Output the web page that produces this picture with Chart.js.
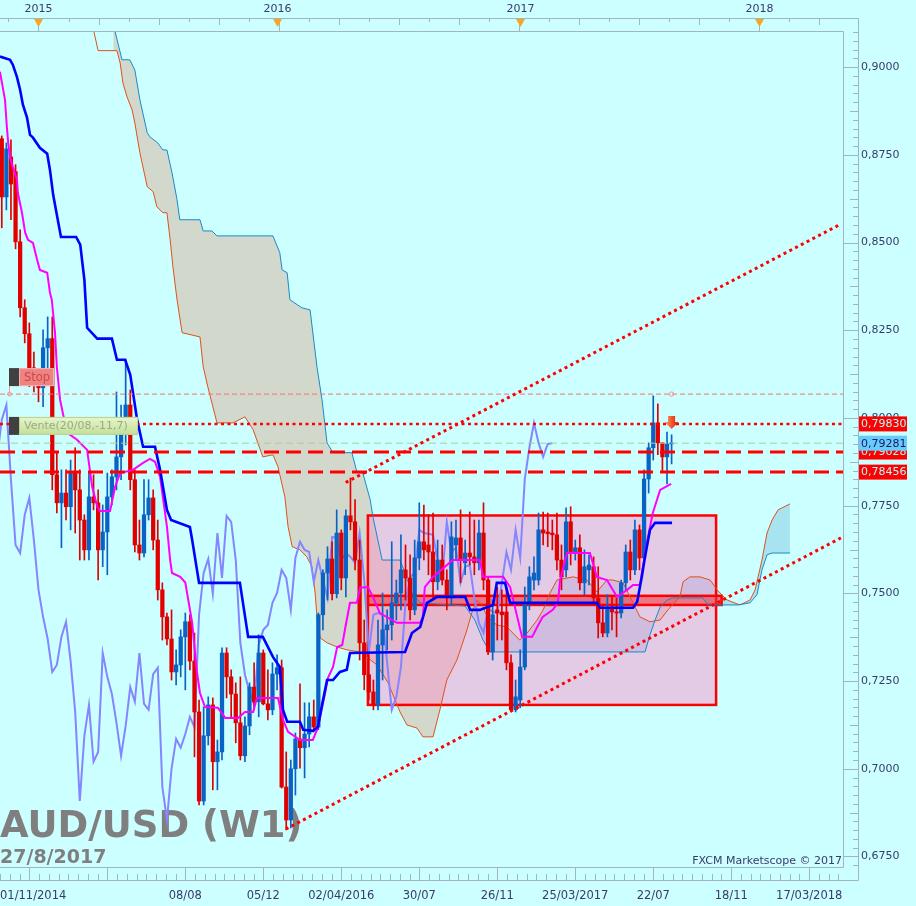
<!DOCTYPE html>
<html lang="fr">
<head>
<meta charset="UTF-8">
<title>AUD/USD (W1)</title>
<script src="https://cdn.jsdelivr.net/npm/chart.js"></script>
<style>
  html, body { margin: 0; padding: 0; background: #ccffff; overflow: hidden; }
  canvas { display: block; }
</style>
</head>
<body>
<canvas id="chart" width="916" height="906"></canvas>
<script>
  // weekly bars, week 0 = 13/12/2014, first bar (01/11/2014) = week -6
  const FIRST_WEEK = -6;
  const opens = [
    .8796,.8630,.8744,.8702,.8502,.8314,.8240,.8143,.8097,.8086,
    .8200,.8226,.7838,.7758,.7786,.7747,.7846,.7795,.7709,.7624,
    .7775,.7758,.7624,.7675,.7775,.7832,.7889,.7995,.8037,.7824,
    .7638,.7615,.7724,.7772,.7652,.7510,.7433,.7370,.7276,.7296,
    .7376,.7419,.7307,.7162,.6908,.7094,.7182,.7020,.7048,.7330,
    .7262,.7213,.7131,.7037,.7122,.7233,.7191,.7330,.7185,.7168,
    .7270,.7288,.6948,.6854,.7000,.7085,.7060,.7099,.7148,.7119,
    .7439,.7558,.7598,.7499,.7672,.7544,.7721,.7704,.7595,.7359,
    .7268,.7219,.7182,.7353,.7396,.7410,.7473,.7501,.7567,.7544,
    .7453,.7601,.7647,.7638,.7618,.7533,.7595,.7538,.7487,.7638,
    .7658,.7587,.7615,.7604,.7587,.7672,.7538,.7333,.7453,.7447,
    .7447,.7302,.7168,.7196,.7290,.7473,.7538,.7538,.7681,.7675,
    .7672,.7667,.7595,.7567,.7704,.7618,.7630,.7530,.7567,.7576,
    .7487,.7416,.7387,.7461,.7447,.7444,.7530,.7618,.7567,.7681,
    .7601,.7826,.7915,.7986,.7929,.7889,.7926
  ];
  const highs = [
    .8804,.8784,.8793,.8722,.8536,.8337,.8271,.8188,.8137,.8251,
    .8288,.8288,.7901,.7852,.7852,.7880,.7915,.7852,.7724,.7843,
    .7838,.7795,.7752,.7843,.7852,.8074,.8037,.8166,.8080,.7852,
    .7709,.7824,.7824,.7795,.7709,.7530,.7444,.7453,.7339,.7396,
    .7444,.7439,.7387,.7196,.7176,.7205,.7202,.7082,.7345,.7345,
    .7282,.7245,.7262,.7148,.7245,.7302,.7382,.7339,.7282,.7302,
    .7325,.7310,.7048,.7025,.7102,.7242,.7188,.7188,.7196,.7444,
    .7567,.7633,.7647,.7738,.7681,.7738,.7829,.7767,.7652,.7424,
    .7325,.7253,.7424,.7501,.7453,.7647,.7538,.7667,.7638,.7610,
    .7652,.7758,.7752,.7724,.7729,.7652,.7638,.7567,.7704,.7709,
    .7738,.7652,.7732,.7709,.7709,.7758,.7547,.7481,.7518,.7510,
    .7518,.7325,.7253,.7339,.7518,.7576,.7604,.7729,.7732,.7729,
    .7709,.7729,.7638,.7744,.7747,.7652,.7667,.7624,.7610,.7604,
    .7576,.7467,.7496,.7490,.7487,.7538,.7638,.7652,.7709,.7695,
    .7852,.7929,.8063,.8040,.7929,.7960,.7952
  ];
  const lows = [
    .8542,.8593,.8565,.8482,.8288,.8214,.8089,.8074,.8046,.8032,
    .8094,.7795,.7729,.7630,.7709,.7681,.7672,.7595,.7595,.7595,
    .7738,.7538,.7576,.7553,.7752,.7795,.7824,.7923,.7795,.7618,
    .7595,.7604,.7709,.7624,.7481,.7367,.7353,.7253,.7239,.7262,
    .7225,.7282,.7034,.6897,.6897,.7068,.6940,.6940,.7025,.7202,
    .7148,.7074,.7025,.7020,.7097,.7168,.7148,.7182,.7139,.7154,
    .7225,.6945,.6826,.6831,.6925,.7002,.6974,.7062,.7105,.7111,
    .7396,.7481,.7481,.7487,.7510,.7490,.7681,.7567,.7310,.7225,
    .7196,.7168,.7168,.7253,.7339,.7367,.7424,.7453,.7481,.7424,
    .7439,.7567,.7595,.7553,.7481,.7510,.7524,.7453,.7467,.7595,
    .7530,.7553,.7581,.7553,.7567,.7510,.7325,.7310,.7367,.7367,
    .7282,.7162,.7162,.7174,.7282,.7453,.7510,.7524,.7638,.7633,
    .7624,.7567,.7510,.7547,.7581,.7595,.7510,.7496,.7524,.7467,
    .7373,.7376,.7376,.7396,.7376,.7430,.7510,.7538,.7553,.7567,
    .7590,.7786,.7880,.7895,.7846,.7812,.7869
  ];
  const closes = [
    .8630,.8767,.8667,.8502,.8314,.8240,.8143,.8097,.8086,.8200,
    .8226,.7838,.7758,.7786,.7747,.7846,.7795,.7709,.7624,.7775,
    .7758,.7624,.7675,.7775,.7832,.7889,.7995,.8037,.7824,.7638,
    .7615,.7724,.7772,.7652,.7510,.7433,.7370,.7276,.7296,.7376,
    .7419,.7307,.7162,.6908,.7094,.7182,.7020,.7048,.7330,.7262,
    .7213,.7131,.7037,.7122,.7233,.7191,.7330,.7185,.7168,.7270,
    .7288,.6948,.6854,.7000,.7085,.7060,.7099,.7148,.7119,.7439,
    .7558,.7598,.7499,.7672,.7544,.7721,.7704,.7595,.7359,.7268,
    .7219,.7182,.7353,.7396,.7410,.7473,.7501,.7567,.7544,.7453,
    .7601,.7647,.7624,.7618,.7533,.7595,.7538,.7487,.7661,.7658,
    .7595,.7615,.7604,.7587,.7672,.7538,.7333,.7439,.7444,.7439,
    .7302,.7168,.7205,.7290,.7473,.7547,.7558,.7681,.7672,.7670,
    .7667,.7595,.7547,.7704,.7618,.7630,.7530,.7576,.7581,.7487,
    .7416,.7387,.7459,.7447,.7444,.7530,.7618,.7567,.7681,.7601,
    .7826,.7915,.7986,.7929,.7889,.7926,.7928
  ];

  // ichimoku lines: [week, price]
  const tenkanPts = [
    [-6.4,.8987],[-5.3,.8907],[-4.9,.8830],[-4.6,.8784],[-4.2,.8744],[-3.6,.8716],[-2.7,.8679],[-2.5,.8642],
    [-1.6,.8585],[-0.9,.8528],[-0.3,.8508],[0.8,.8499],[1.7,.8451],[2.3,.8422],[3.9,.8414],[4.5,.8357],
    [4.9,.8337],[5.6,.8243],[6.0,.8146],[6.7,.8052],[8.2,.7958],[10.4,.7938],[12.6,.7909],[13.7,.7804],
    [14.8,.7747],[15.4,.7735],[17.6,.7735],[18.7,.7804],[19.8,.7843],[22.6,.7852],[24.8,.7872],[26.3,.7883],
    [27.4,.7875],[28.5,.7832],[29.1,.7775],[30.0,.7690],[30.7,.7595],[31.1,.7558],[32.9,.7547],[34.0,.7531],
    [35.5,.7416],[36.5,.7280],[37.2,.7216],[38.3,.7176],[41.1,.7174],[42.7,.7145],[45.5,.7145],[47.0,.7162],
    [48.8,.7162],[49.6,.7202],[54.2,.7202],[55.3,.7139],[56.4,.7105],[59.0,.7082],[61.8,.7082],[62.9,.7117],
    [64.4,.7211],[65.1,.7259],[66.2,.7290],[67.1,.7347],[68.2,.7353],[68.9,.7404],[69.9,.7473],[71.4,.7473],
    [72.1,.7516],[73.8,.7518],[74.9,.7490],[76.4,.7444],[80.1,.7416],[85.2,.7416],[85.8,.7433],[86.2,.7518],
    [88.0,.7547],[92.3,.7595],[98.2,.7595],[98.9,.7547],[103.3,.7547],[104.8,.7518],[107.4,.7376],[109.6,.7376],
    [110.7,.7404],[111.9,.7433],[114.1,.7453],[115.2,.7473],[115.7,.7538],[117.2,.7615],[122.2,.7615],[123.7,.7547],
    [125.9,.7538],[128.1,.7490],[130.3,.7510],[131.6,.7524],[133.1,.7524],[134.6,.7644],[135.9,.7729],[137.5,.7795],
    [139.9,.7812]
  ];
  const kijunPts = [
    [-6.4,.9030],[-4.2,.9021],[-3.6,.9007],[-2.7,.8972],[-2.0,.8935],[-1.4,.8893],[-0.5,.8856],[0.15,.8807],
    [0.8,.8799],[2.3,.8770],[3.9,.8753],[4.5,.8707],[5.2,.8636],[6.0,.8579],[6.9,.8516],[10.2,.8516],
    [11.1,.8494],[12.0,.8394],[12.6,.8257],[14.8,.8226],[18.0,.8226],[19.1,.8166],[20.9,.8166],[22.0,.8123],
    [23.5,.7995],[24.8,.7918],[27.4,.7918],[28.5,.7852],[30.0,.7738],[30.9,.7709],[35.0,.7689],[35.5,.7652],
    [37.0,.7530],[45.9,.7530],[47.7,.7376],[50.9,.7376],[53.1,.7319],[54.6,.7290],[55.3,.7168],[56.2,.7134],
    [59.0,.7134],[59.7,.7111],[61.8,.7108],[62.9,.7119],[63.8,.7182],[64.9,.7253],[66.2,.7253],[67.7,.7276],
    [69.2,.7282],[69.9,.7330],[81.9,.7333],[83.4,.7387],[85.2,.7404],[86.7,.7473],[88.9,.7490],[95.0,.7490],
    [96.1,.7453],[98.2,.7453],[101.1,.7467],[101.9,.7530],[103.7,.7530],[104.8,.7473],[123.7,.7473],[124.4,.7459],
    [131.6,.7459],[132.5,.7476],[133.5,.7547],[134.2,.7604],[135.3,.7681],[136.4,.7701],[140.1,.7701]
  ];
  const senkouAPts = [
    [13.5,.9135],[15.0,.9047],[19.1,.9047],[19.8,.9012],[20.4,.8955],[21.3,.8915],[22.4,.8878],[23.0,.8841],
    [24.1,.8756],[25.7,.8659],[27.0,.8645],[27.8,.8602],[29.1,.8585],[30.0,.8585],[30.7,.8508],[31.3,.8431],
    [32.2,.8337],[33.3,.8243],[37.2,.8231],[37.9,.8146],[38.9,.8089],[40.9,.7986],[44.4,.7986],[47.0,.8003],
    [48.8,.7966],[50.9,.7889],[53.1,.7895],[54.2,.7861],[55.7,.7775],[56.4,.7690],[57.3,.7633],[59.0,.7624],
    [60.5,.7604],[61.6,.7576],[62.3,.7501],[62.7,.7433],[63.4,.7373],[64.9,.7359],[67.1,.7347],[69.2,.7339],
    [72.1,.7333],[75.8,.7296],[78.2,.7245],[80.8,.7162],[82.3,.7125],[84.5,.7116],[85.8,.7091],[88.0,.7091],
    [89.5,.7168],[91.0,.7253],[93.2,.7310],[95.4,.7396],[96.5,.7447],[97.6,.7481],[98.7,.7467],[99.8,.7433],
    [101.9,.7410],[104.1,.7404],[106.9,.7367],[108.5,.7387],[110.7,.7424],[112.0,.7453],[113.5,.7501],[115.0,.7538],
    [118.5,.7547],[121.6,.7538],[123.7,.7504],[125.9,.7538],[127.2,.7538],[129.4,.7530],[131.6,.7473],[133.1,.7433],
    [135.3,.7419],[137.5,.7424],[139.2,.7453],[141.8,.7490],[142.5,.7533],[144.0,.7547],[146.2,.7547],[148.4,.7538],
    [149.9,.7510],[152.1,.7481],[154.9,.7467],[157.1,.7481],[158.2,.7510],[159.7,.7595],[160.8,.7672],[161.9,.7709],
    [163.2,.7738],[165.8,.7755]
  ];
  const senkouBPts = [
    [18.3,.9135],[18.7,.9101],[20.2,.9021],[21.9,.9021],[23.0,.8992],[24.1,.8907],[25.7,.8813],[26.3,.8801],
    [28.0,.8784],[29.1,.8764],[30.0,.8764],[31.1,.8699],[32.2,.8622],[32.8,.8565],[37.2,.8565],[37.9,.8533],
    [39.8,.8533],[40.9,.8519],[53.1,.8519],[54.6,.8471],[55.1,.8422],[56.2,.8414],[56.8,.8337],[59.4,.8314],
    [61.2,.8308],[62.7,.8146],[63.8,.8052],[64.9,.7929],[66.2,.7901],[70.3,.7901],[71.4,.7846],[72.7,.7843],
    [74.3,.7767],[74.9,.7718],[76.9,.7595],[80.8,.7595],[81.9,.7558],[83.4,.7501],[85.2,.7473],[95.0,.7464],
    [97.1,.7424],[98.9,.7367],[100.4,.7333],[134.2,.7333],[135.3,.7382],[136.4,.7424],[137.5,.7461],[139.0,.7481],
    [140.3,.7487],[146.8,.7487],[147.9,.7467],[154.5,.7467],[157.1,.7473],[158.6,.7496],[159.7,.7567],[160.8,.7610],
    [161.9,.7615],[165.8,.7615]
  ];
  const CHIKOU_SHIFT = 26;

  // levels, zones and trend lines
  const STOP_LEVEL = 0.8068;
  const ENTRY_LEVEL = 0.79830;
  const LAST_PRICE = 0.79281;
  const targetLevels = [0.79028, 0.78456];
  const zoneWeeks = [73.8, 149.7], zonePrices = [0.7182, 0.7722];
  const bandWeeks = [73.8, 150.9], bandPrices = [0.7467, 0.7493];
  const upperTrend = [[68.96, 0.7816], [176.5, 0.8550]];
  const lowerTrend = [[55.9, 0.6828], [176.9, 0.7658]];
  const SIGNAL_WEEK = 140;

  // axes
  const X_MIN = -6.39, X_MAX = 177.36;
  const Y_MIN = 0.6720, Y_MAX = 0.9103;
  const priceTicks = [0.675, 0.7, 0.725, 0.75, 0.775, 0.8, 0.825, 0.85, 0.875, 0.9];
  const xTickWeeks = [X_MIN, 34, 51, 68, 85, 102, 119, 136, 153, 170, X_MAX];
  const xTickLabels = ['01/11/2014', '08/08', '05/12', '02/04/2016', '30/07', '26/11', '25/03/2017', '22/07', '18/11', '17/03/2018', ''];
  const yearWeeks = [2, 54, 107, 159];
  const yearLabels = ['2015', '2016', '2017', '2018'];

  const UP = '#0a62c4', DOWN = '#e00000';
  const AXIS = '#a2b4c2', TEXT = '#3a3a6a';
  const FONT = 'DejaVu Sans';

  const pts = arr => arr.map(([x, y]) => ({ x, y }));
  const flat = (p, color, width, dash, order) => ({
    type: 'line', data: [{ x: X_MIN, y: p }, { x: X_MAX, y: p }],
    borderColor: color, borderWidth: width, borderDash: dash, pointRadius: 0, fill: false, order
  });
  const trend = (seg, order) => ({
    type: 'line', data: pts(seg), borderColor: '#ff0000', borderWidth: 3, borderDash: [3, 3.5],
    pointRadius: 0, fill: false, order
  });

  const decor = {
    id: 'decor',
    beforeDatasetsDraw(chart) {
      const { ctx, chartArea: a, scales: { x, y } } = chart;
      ctx.save();
      ctx.beginPath();
      ctx.rect(a.left, a.top, a.right - a.left, a.bottom - a.top);
      ctx.clip();
      const box = (w, p, fill, lw) => {
        const l = x.getPixelForValue(w[0]), r = x.getPixelForValue(w[1]);
        const t = y.getPixelForValue(p[1]), b = y.getPixelForValue(p[0]);
        ctx.fillStyle = fill;
        ctx.fillRect(l, t, r - l, b - t);
        ctx.strokeStyle = '#ff0000';
        ctx.lineWidth = lw;
        ctx.strokeRect(l, t, r - l, b - t);
      };
      box(zoneWeeks, zonePrices, 'rgba(255,140,200,0.45)', 2.5);
      box(bandWeeks, bandPrices, 'rgba(238,50,60,0.55)', 2.5);

      ctx.fillStyle = '#7f7f7f';
      ctx.textBaseline = 'alphabetic';
      ctx.textAlign = 'left';
      ctx.font = 'bold 37px "' + FONT + '"';
      ctx.fillText('AUD/USD (W1)', a.left, 837);
      ctx.font = 'bold 19px "' + FONT + '"';
      ctx.fillText('27/8/2017', a.left, 863);
      ctx.fillStyle = TEXT;
      ctx.textAlign = 'right';
      ctx.font = '11px "' + FONT + '"';
      ctx.fillText('FXCM Marketscope \u00a9 2017', a.right - 1, 864);
      ctx.restore();
    },
    afterDatasetsDraw(chart) {
      const { ctx, chartArea: a, scales: { x, y } } = chart;
      ctx.save();
      const stopY = y.getPixelForValue(STOP_LEVEL);
      const entryY = y.getPixelForValue(ENTRY_LEVEL);
      ctx.font = '11px "' + FONT + '"';
      ctx.textBaseline = 'middle';
      ctx.textAlign = 'left';

      // Stop tag
      ctx.strokeStyle = '#ff9090';
      ctx.lineWidth = 1;
      ctx.beginPath();
      ctx.moveTo(a.left + 9.5, stopY - 8);
      ctx.lineTo(a.left + 9.5, stopY - 2);
      ctx.stroke();
      ctx.beginPath();
      ctx.arc(a.left + 9.5, stopY, 2, 0, Math.PI * 2);
      ctx.stroke();
      ctx.beginPath();
      ctx.arc(x.getPixelForValue(SIGNAL_WEEK), stopY, 2.2, 0, Math.PI * 2);
      ctx.stroke();
      ctx.fillStyle = '#404040';
      ctx.fillRect(a.left + 9, stopY - 26, 10, 18);
      ctx.fillStyle = '#f08282';
      ctx.fillRect(a.left + 19, stopY - 26, 35, 18);
      ctx.strokeStyle = '#f6b0b0';
      ctx.strokeRect(a.left + 19.5, stopY - 25.5, 34, 17);
      ctx.fillStyle = 'rgba(190,60,60,0.8)';
      ctx.font = '11.5px "' + FONT + '"';
      ctx.fillText('Stop', a.left + 24, stopY - 16.5);

      // Vente tag
      const vt = entryY - 7;
      ctx.fillStyle = '#404040';
      ctx.fillRect(a.left + 9, vt, 10, 18);
      const g = ctx.createLinearGradient(0, vt, 0, vt + 18);
      g.addColorStop(0, '#e8f6cc');
      g.addColorStop(1, '#c2df98');
      ctx.fillStyle = g;
      ctx.fillRect(a.left + 19, vt, 119, 18);
      ctx.strokeStyle = '#b8d090';
      ctx.strokeRect(a.left + 19.5, vt + 0.5, 118, 17);
      ctx.fillStyle = '#98aa86';
      ctx.font = '11px "' + FONT + '"';
      ctx.fillText('Vente(20/08,-11,7)', a.left + 24, vt + 9.5);

      // sell arrow
      const ax = x.getPixelForValue(SIGNAL_WEEK);
      const ag = ctx.createLinearGradient(ax - 6, 0, ax + 6, 0);
      ag.addColorStop(0, '#ff9060');
      ag.addColorStop(1, '#e02000');
      ctx.fillStyle = ag;
      ctx.beginPath();
      ctx.moveTo(ax - 3.5, entryY - 8);
      ctx.lineTo(ax + 3.5, entryY - 8);
      ctx.lineTo(ax + 3.5, entryY - 2);
      ctx.lineTo(ax + 7, entryY - 2);
      ctx.lineTo(ax, entryY + 5);
      ctx.lineTo(ax - 7, entryY - 2);
      ctx.lineTo(ax - 3.5, entryY - 2);
      ctx.closePath();
      ctx.fill();
      ctx.restore();
    },
    afterDraw(chart) {
      const { ctx, chartArea: a, scales: { x, y } } = chart;
      const R = a.right + 15, T = a.top - 13, B = a.bottom + 13;
      ctx.save();
      ctx.strokeStyle = AXIS;
      ctx.lineWidth = 1;
      ctx.beginPath();
      ctx.moveTo(a.left, a.top + 0.5); ctx.lineTo(a.right + 0.5, a.top + 0.5);
      ctx.lineTo(a.right + 0.5, a.bottom + 0.5); ctx.lineTo(a.left, a.bottom + 0.5);
      ctx.moveTo(a.left, T + 0.5); ctx.lineTo(R + 0.5, T + 0.5);
      ctx.lineTo(R + 0.5, B + 0.5); ctx.lineTo(a.left, B + 0.5);

      // price ticks
      for (let k = Math.ceil(Y_MIN / 0.0025); k * 0.0025 <= Y_MAX; k++) {
        const py = Math.round(y.getPixelForValue(k * 0.0025)) + 0.5;
        const len = k % 10 === 0 ? 15 : (k % 5 === 0 ? 8 : 5);
        ctx.moveTo(R - len, py); ctx.lineTo(R, py);
      }
      // date ticks
      for (let k = -3; k <= 84; k++) {
        const w = k * 17 / 8;
        if (w < X_MIN || w > X_MAX) continue;
        const px = Math.round(x.getPixelForValue(w)) + 0.5;
        const len = k % 8 === 0 ? 13 : 6;
        ctx.moveTo(px, B - len); ctx.lineTo(px, B);
      }
      // calendar ticks on top
      const step = (yearWeeks[3] - yearWeeks[0]) / 24;
      for (let k = -1; k <= 28; k++) {
        const w = yearWeeks[0] + k * step;
        if (w < X_MIN || w > X_MAX) continue;
        const px = Math.round(x.getPixelForValue(w)) + 0.5;
        const len = k % 8 === 0 ? 13 : (k % 2 === 0 ? 7 : 4);
        ctx.moveTo(px, T); ctx.lineTo(px, T + len);
      }
      ctx.stroke();

      ctx.font = '11px "' + FONT + '"';
      ctx.textAlign = 'center';
      ctx.textBaseline = 'middle';
      yearWeeks.forEach((w, i) => {
        const px = Math.round(x.getPixelForValue(w)) + 0.5;
        ctx.fillStyle = TEXT;
        ctx.fillText(yearLabels[i], px, 9);
        ctx.fillStyle = '#f5a623';
        ctx.beginPath();
        ctx.moveTo(px - 4.5, T + 1);
        ctx.lineTo(px + 4.5, T + 1);
        ctx.lineTo(px, T + 9);
        ctx.closePath();
        ctx.fill();
      });

      // price tags on the right axis
      const tag = (p, bg, fg) => {
        const py = y.getPixelForValue(p);
        ctx.fillStyle = bg;
        ctx.fillRect(R + 1, py - 7.5, 48, 15);
        ctx.fillStyle = fg;
        ctx.textAlign = 'left';
        ctx.fillText(p.toFixed(5).replace('.', ','), R + 3, py + 0.5);
      };
      tag(ENTRY_LEVEL, '#ff0000', '#a8ffff');
      tag(targetLevels[0], '#ff0000', '#a8ffff');
      tag(LAST_PRICE, '#66ccff', '#1a1a50');
      tag(targetLevels[1], '#ff0000', '#a8ffff');
      ctx.restore();
    }
  };

  const bodyColor = c => closes[c.dataIndex] >= opens[c.dataIndex] ? UP : DOWN;

  new Chart(document.getElementById('chart'), {
    type: 'bar',
    data: {
      datasets: [
        {
          type: 'line', data: pts(senkouAPts), borderColor: '#e0501a', borderWidth: 1, pointRadius: 0,
          fill: { target: 1, above: '#a8e4f0', below: '#d2d9cc' }, order: 100
        },
        { type: 'line', data: pts(senkouBPts), borderColor: '#1a88c8', borderWidth: 1, pointRadius: 0, fill: false, order: 99 },
        {
          type: 'line', data: closes.map((c, k) => ({ x: FIRST_WEEK + k - CHIKOU_SHIFT, y: c })),
          borderColor: '#8585ff', borderWidth: 2, pointRadius: 0, fill: false, order: 90
        },
        {
          type: 'bar', data: closes.map((c, k) => ({ x: FIRST_WEEK + k, y: [lows[k], highs[k]] })),
          backgroundColor: bodyColor, barThickness: 1, grouped: false, borderWidth: 0, order: 80
        },
        {
          type: 'bar', data: closes.map((c, k) => ({ x: FIRST_WEEK + k, y: [opens[k], c] })),
          backgroundColor: bodyColor, barThickness: 3.6, grouped: false, borderWidth: 0, minBarLength: 1, order: 70
        },
        { type: 'line', data: pts(tenkanPts), borderColor: '#ff00ff', borderWidth: 2, pointRadius: 0, fill: false, order: 60 },
        { type: 'line', data: pts(kijunPts), borderColor: '#0000ff', borderWidth: 2.6, pointRadius: 0, fill: false, order: 50 },
        flat(STOP_LEVEL, '#ff7070', 1, [5, 3], 45),
        flat(LAST_PRICE, '#a8d098', 1, [7, 4], 44),
        flat(ENTRY_LEVEL, '#ff0000', 2.5, [3, 3.5], 43),
        flat(targetLevels[0], '#ff0000', 3, [15, 7], 42),
        flat(targetLevels[1], '#ff0000', 3, [15, 7], 41),
        trend(upperTrend, 40),
        trend(lowerTrend, 39)
      ]
    },
    options: {
      responsive: false,
      animation: false,
      events: [],
      layout: { padding: { top: 31, left: 0, right: 0, bottom: 0 } },
      plugins: {
        legend: { display: false },
        tooltip: { enabled: false },
        filler: { drawTime: 'beforeDatasetsDraw' }
      },
      scales: {
        x: {
          type: 'linear', min: X_MIN, max: X_MAX, offset: false,
          grid: { display: true, drawOnChartArea: false, drawTicks: true, tickLength: 22, color: 'rgba(0,0,0,0)' },
          border: { display: false },
          afterBuildTicks: s => { s.ticks = xTickWeeks.map(v => ({ value: v })); },
          afterFit: s => { s.height = 39; },
          ticks: {
            autoSkip: false, maxRotation: 0, align: 'inner', padding: 0,
            color: TEXT, font: { family: FONT, size: 11.5 },
            callback: (v, i) => xTickLabels[i]
          }
        },
        y: {
          type: 'linear', position: 'right', min: Y_MIN, max: Y_MAX,
          grid: { display: true, drawOnChartArea: false, drawTicks: true, tickLength: 18, color: 'rgba(0,0,0,0)' },
          border: { display: false },
          afterBuildTicks: s => { s.ticks = priceTicks.map(v => ({ value: v })); },
          afterFit: s => { s.width = 73; },
          ticks: {
            padding: 0, color: TEXT, font: { family: FONT, size: 11 },
            callback: v => v.toFixed(4).replace('.', ',')
          }
        }
      }
    },
    plugins: [decor]
  });
</script>
</body>
</html>
